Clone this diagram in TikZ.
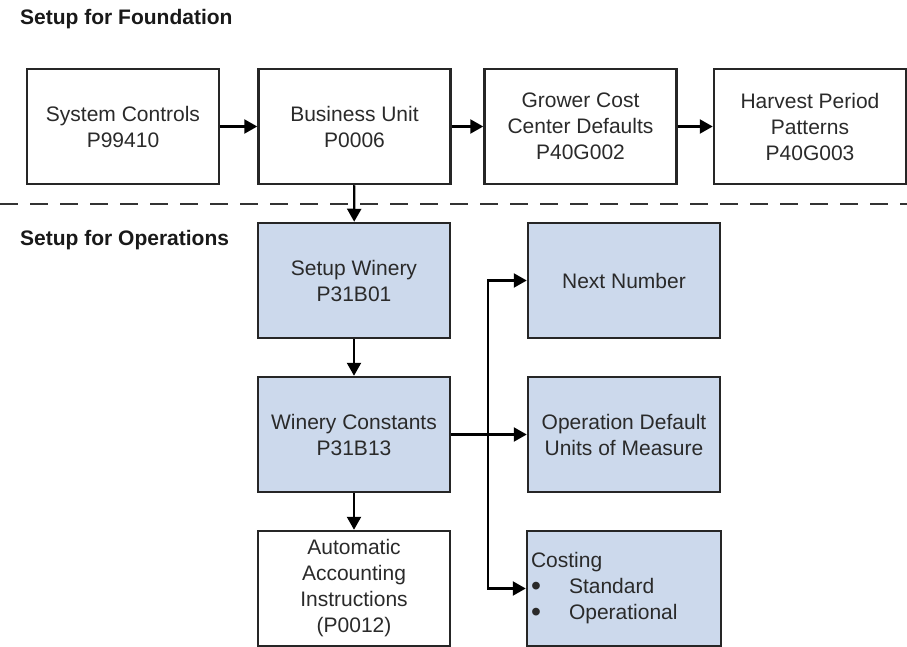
\documentclass[tikz,border=0pt]{standalone}
\usepackage{fontspec}
\usepackage{graphicx}
\setmainfont{Liberation Sans}
\usetikzlibrary{arrows.meta}
\definecolor{boxblue}{HTML}{CCD9EC}
\definecolor{txt}{HTML}{2A2A2A}
\tikzset{
  box/.style={draw=black!85, line width=2.5pt, minimum width=192pt, minimum height=115pt,
    inner sep=2pt, align=center, text=txt, font=\fontsize{21}{26}\selectfont},
  bluebox/.style={box, fill=boxblue},
  arr/.style={line width=2.3pt, draw=black, -{Triangle[length=13pt,width=14pt]}},
  heading/.style={anchor=base west, inner sep=0pt, font=\fontsize{21}{26}\selectfont\bfseries, text=black!90},
}
\newcommand{\bul}{\makebox[38pt][l]{\raisebox{-2pt}{\scalebox{1.35}{•}}}}
\begin{document}
\begin{tikzpicture}[x=1pt,y=-1pt]
\useasboundingbox (0,0) rectangle (907,647);
\node[heading] (h1) at (20,25) {Setup for Foundation};
\node[heading] (h2) at (20,245) {Setup for Operations};

\node[box] (sc) at (123,126.5) {System Controls\\P99410};
\node[box] (bu) at (354.5,126.5) {Business Unit\\P0006};
\node[box] (gc) at (580.5,126.5) {Grower Cost\\Center Defaults\\P40G002};
\node[box] (hp) at (810,126.5) {Harvest Period\\Patterns\\P40G003};

\draw[line width=2.3pt, draw=black!80, dash pattern=on 18pt off 12pt] (0,204) -- (907,204);

\node[bluebox] (sw) at (354,280.5) {Setup Winery\\P31B01};
\node[bluebox] (wc) at (354,434.5) {Winery Constants\\P31B13};
\node[box] (aai) at (354,588.5) {Automatic\\Accounting\\Instructions\\(P0012)};

\node[bluebox] (nn) at (624,280.5) {Next Number};
\node[bluebox] (od) at (624,434.5) {Operation Default\\Units of Measure};
\node[bluebox, align=left, text width=186pt, inner sep=4pt] (co) at (624,588.5)
  {Costing\\\bul Standard\\\bul Operational};

\draw[arr] (sc) -- (bu);
\draw[arr] (bu) -- (gc);
\draw[arr] (gc) -- (hp);
\draw[arr] (bu) -- (sw);
\draw[arr] (sw) -- (wc);
\draw[arr] (wc) -- (aai);
\draw[arr] (wc) -- (od);
\coordinate (jx) at (488,434.5);
\draw[line width=2.3pt, {Triangle[length=13pt,width=14pt]}-{Triangle[length=13pt,width=14pt]}]
  (nn.west) -| (jx) |- (co.west);
\end{tikzpicture}
\end{document}
